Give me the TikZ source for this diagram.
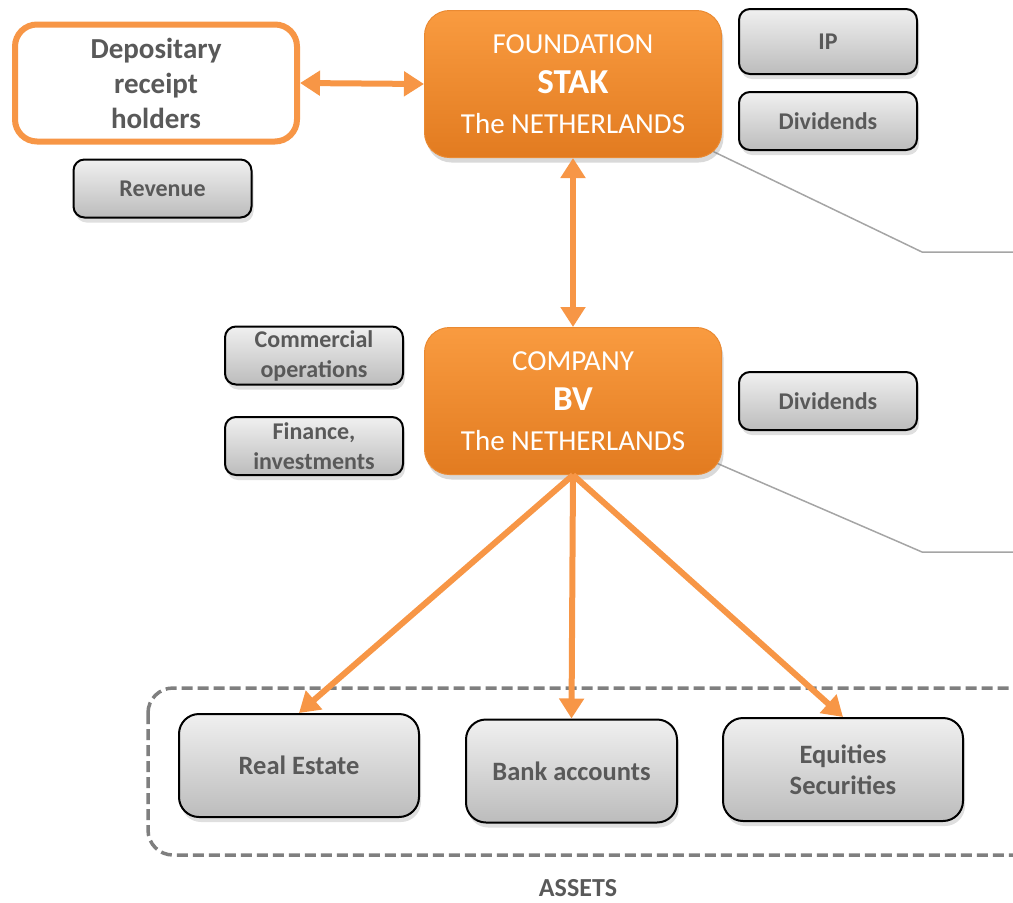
\documentclass[tikz,border=0pt]{standalone}
\usepackage{fontspec}
\setmainfont{Carlito}
\usetikzlibrary{shadows}
\usetikzlibrary{arrows.meta}
\usetikzlibrary{backgrounds}

\definecolor{arroworange}{HTML}{F79646}
\definecolor{boxtop}{HTML}{F99B40}
\definecolor{boxbottom}{HTML}{E27B20}
\definecolor{boxedge}{HTML}{EA8A32}
\definecolor{textgray}{HTML}{595959}
\definecolor{greytop}{HTML}{F0F0F0}
\definecolor{greybottom}{HTML}{BCBCBC}
\definecolor{dashgray}{HTML}{7F7F7F}
\definecolor{linegray}{HTML}{A5A5A5}

\begin{document}
\begin{tikzpicture}[x=1pt,y=-1pt,
	entity/.style={rounded corners=25pt, top color=boxtop, bottom color=boxbottom, draw=boxedge, line width=1pt, text=white, align=center, minimum width=297pt, minimum height=147pt, font=\fontsize{29}{40}\selectfont, drop shadow={shadow xshift=2pt, shadow yshift=-5pt, opacity=0.3}},
	tag/.style={rounded corners=11pt, top color=greytop, bottom color=greybottom, draw=black, line width=2pt, text=textgray, align=center, minimum width=178pt, minimum height=58pt, font=\bfseries\fontsize{24}{30}\selectfont, drop shadow={shadow xshift=2pt, shadow yshift=-5pt, opacity=0.25}},
	asset/.style={tag, rounded corners=20pt, minimum width=240pt, minimum height=103pt, font=\bfseries\fontsize{26.5}{31}\selectfont},
	flow/.style={draw=arroworange, line width=6pt, -{Triangle[width=24pt,length=20pt]}},
	twoway/.style={flow, {Triangle[width=24pt,length=20pt]}-{Triangle[width=24pt,length=20pt]}},
	link/.style={draw=linegray, line width=1.5pt}]
		\clip (0,0) rectangle (1013,903);
		
		% Draw the holders and the foundation
		\node[draw=arroworange, line width=6pt, fill=white, rounded corners=22pt, minimum width=282pt, minimum height=117pt, text=textgray, align=center, font=\bfseries\fontsize{29}{35}\selectfont] (holders) at (156,83) {Depositary\\receipt\\holders};
		\node[tag] (revenue) at (162.5,188.5) {Revenue};
		\node[entity] (stak) at (573,84) {FOUNDATION\\{\bfseries\fontsize{35}{40}\selectfont STAK}\\The NETHERLANDS};
		\node[tag, minimum height=65pt] (ip) at (828,41.5) {IP};
		\node[tag] (stakdiv) at (828,121) {Dividends};
		
		% Draw the company
		\node[entity] (bv) at (573,401) {COMPANY\\{\bfseries\fontsize{35}{40}\selectfont BV}\\The NETHERLANDS};
		\node[tag] (commercial) at (314,355.5) {Commercial\\operations};
		\node[tag] (finance) at (314,446) {Finance,\\investments};
		\node[tag] (bvdiv) at (828,401) {Dividends};
		
		% Draw the assets
		\draw[dashgray, line width=3.5pt, dash pattern=on 11pt off 5pt, rounded corners=25pt] (148,688) rectangle (1040,855);
		\node[asset] (realestate) at (299,765.5) {Real Estate};
		\node[asset, minimum width=211pt] (bank) at (571.5,771) {Bank accounts};
		\node[asset] (equities) at (843,769.5) {Equities\\Securities};
		\node[text=textgray, inner sep=0pt, font=\bfseries\fontsize{26}{28}\selectfont] (assets) at (578,888) {ASSETS};
		
		% Grey callout lines
		\coordinate (stakbend) at (922,252);
		\coordinate (stakend) at (1020,252);
		\coordinate (bvbend) at (922,552);
		\coordinate (bvend) at (1020,552);
		\begin{scope}[on background layer]
			\draw[link] (stak.center) -- (stakbend) -- (stakend);
			\draw[link] (bv.center) -- (bvbend) -- (bvend);
		\end{scope}
		
		% Arrows
		\draw[twoway] (holders.east) -- (stak.west);
		\draw[twoway] (stak.south) -- (bv.north);
		\draw[flow] (bv.south) -- (realestate.north);
		\draw[flow] (bv.south) -- (bank.north);
		\draw[flow] (bv.south) -- (equities.north);
	\end{tikzpicture}
\end{document}
